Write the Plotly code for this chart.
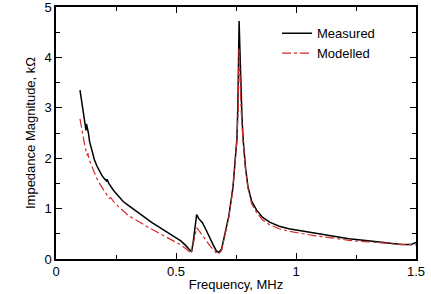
import plotly.graph_objects as go

meas_x = [0.100, 0.110, 0.120, 0.125, 0.127, 0.130, 0.135, 0.140, 0.150, 0.160, 0.170, 0.180, 0.190, 0.200, 0.210, 0.213, 0.220,
          0.240, 0.260, 0.280, 0.300, 0.320, 0.340, 0.360, 0.380, 0.400, 0.420, 0.440, 0.460, 0.480, 0.500, 0.520, 0.540,
          0.555, 0.565, 0.572, 0.580, 0.586, 0.595, 0.610, 0.625, 0.640, 0.655, 0.668, 0.678, 0.690, 0.704, 0.720, 0.7375,
          0.748, 0.754, 0.758, 0.761, 0.763, 0.766, 0.770, 0.775, 0.780, 0.790, 0.800, 0.815, 0.836, 0.860, 0.890, 0.930,
          0.970, 1.020, 1.080, 1.150, 1.220, 1.300, 1.380, 1.440, 1.480, 1.500]
meas_y = [3.35, 3.00, 2.68, 2.55, 2.68, 2.62, 2.50, 2.33, 2.12, 1.97, 1.85, 1.75, 1.67, 1.60, 1.55, 1.58, 1.50,
          1.36, 1.24, 1.14, 1.07, 1.00, 0.92, 0.85, 0.79, 0.72, 0.66, 0.60, 0.55, 0.49, 0.43, 0.36, 0.27,
          0.18, 0.14, 0.35, 0.70, 0.88, 0.80, 0.72, 0.58, 0.42, 0.28, 0.16, 0.13, 0.20, 0.52, 0.85, 1.43,
          1.95, 2.40, 3.10, 4.00, 4.72, 4.20, 3.40, 2.80, 2.36, 1.80, 1.43, 1.15, 0.97, 0.83, 0.73, 0.65,
          0.60, 0.56, 0.51, 0.45, 0.40, 0.36, 0.32, 0.29, 0.29, 0.33]

mod_x = [0.100, 0.110, 0.120, 0.130, 0.133, 0.137, 0.145, 0.155, 0.170, 0.185, 0.200, 0.215, 0.222, 0.228, 0.240,
         0.260, 0.280, 0.300, 0.320, 0.340, 0.360, 0.380, 0.400, 0.420, 0.440, 0.460, 0.480, 0.500, 0.520, 0.540,
         0.555, 0.563, 0.572, 0.580, 0.586, 0.595, 0.610, 0.625, 0.640, 0.655, 0.668, 0.678, 0.690, 0.704, 0.720,
         0.7375, 0.748, 0.754, 0.759, 0.763, 0.767, 0.772, 0.780, 0.790, 0.800, 0.815, 0.836, 0.860, 0.890, 0.930,
         0.970, 1.020, 1.080, 1.150, 1.220, 1.300, 1.380, 1.440, 1.500]
mod_y = [2.78, 2.50, 2.25, 2.05, 2.10, 1.98, 1.88, 1.77, 1.60, 1.47, 1.36, 1.25, 1.20, 1.22, 1.14,
         1.04, 0.95, 0.87, 0.81, 0.76, 0.70, 0.64, 0.59, 0.54, 0.49, 0.44, 0.38, 0.33, 0.28, 0.21,
         0.15, 0.12, 0.30, 0.52, 0.62, 0.57, 0.48, 0.37, 0.27, 0.18, 0.12, 0.10, 0.17, 0.48, 0.82,
         1.40, 1.92, 2.35, 3.00, 4.19, 3.60, 2.90, 2.30, 1.75, 1.40, 1.10, 0.92, 0.78, 0.68, 0.60,
         0.55, 0.51, 0.46, 0.42, 0.37, 0.34, 0.31, 0.29, 0.28]

x_ticks = [0, 0.5, 1, 1.5]
x_ticklabels = ["0", "0.5", "1", "1.5"]
y_ticks = [0, 1, 2, 3, 4, 5]

FONT = "Liberation Sans, Arial, Helvetica, sans-serif"

fig = go.Figure()
fig.add_trace(go.Scatter(x=meas_x, y=meas_y, mode="lines", name="Measured",
                         line=dict(color="black", width=1.5)))
fig.add_trace(go.Scatter(x=mod_x, y=mod_y, mode="lines", name="Modelled",
                         line=dict(color="#d42a2a", width=1.2, dash="dashdot")))

axis_common = dict(showgrid=False, zeroline=False, showline=True, linecolor="black", linewidth=1.5,
                   mirror="ticks", ticks="inside", ticklen=6, tickwidth=1.2, tickcolor="black",
                   automargin=False, ticklabeloverflow="allow",
                   tickfont=dict(family=FONT, size=13, color="black"))

fig.update_xaxes(range=[0, 1.5], tickvals=x_ticks, ticktext=x_ticklabels,
                 minor=dict(ticks="inside", ticklen=4, tickwidth=1.2, tickcolor="black", dtick=0.25, tick0=0),
                 title=dict(text="Frequency, MHz", font=dict(family=FONT, size=13, color="black"), standoff=2),
                 **axis_common)
fig.update_yaxes(range=[0, 5], tickvals=y_ticks,
                 minor=dict(ticks="inside", ticklen=4, tickwidth=1.2, tickcolor="black", dtick=0.5, tick0=0),
                 title=dict(text="Impedance Magnitude, kΩ", font=dict(family=FONT, size=13, color="black"), standoff=6),
                 **axis_common)

fig.update_layout(
    width=431, height=294,
    margin=dict(l=56, r=15, t=7, b=35),
    paper_bgcolor="white", plot_bgcolor="white",
    font=dict(family=FONT, size=13, color="black"),
    legend=dict(x=0.614, y=0.955, xanchor="left", yanchor="top", bgcolor="rgba(0,0,0,0)",
                font=dict(family=FONT, size=13), itemwidth=30, tracegroupgap=0),
)

fig.write_html("out.html")
